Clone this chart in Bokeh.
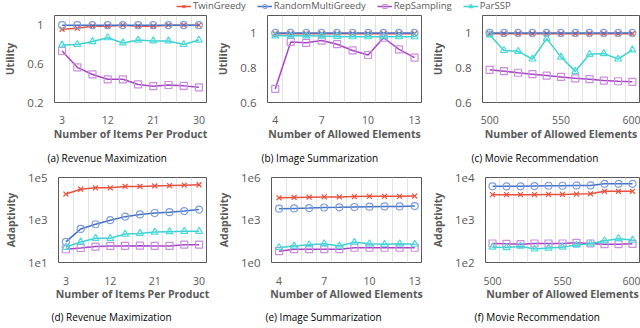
from bokeh.plotting import figure
from bokeh.models import Range1d, FixedTicker, CustomJSTickFormatter, Legend, LegendItem
from bokeh.layouts import column, row
from bokeh.embed import file_html
from bokeh.resources import INLINE

# ---------------- data ----------------
SERIES = ["TwinGreedy", "RandomMultiGreedy", "RepSampling", "ParSSP"]

x_rev = [3, 6, 9, 12, 15, 18, 21, 24, 27, 30]
x_img = [4, 5, 6, 7, 8, 9, 10, 11, 12, 13]
x_mov = [500, 510, 520, 530, 540, 550, 560, 570, 580, 590, 600]

xticks_rev = [3, 12, 21, 30]
xticks_img = [4, 7, 10, 13]
xticks_mov = [500, 550, 600]

# (a) Revenue Maximization - Utility
rev_util_twin = [0.958, 0.967, 0.99, 0.99, 1.0, 0.99, 0.99, 1.0, 1.0, 1.0]
rev_util_rmg = [1.0, 1.0, 1.0, 1.0, 1.0, 1.0, 1.0, 1.0, 1.0, 1.0]
rev_util_rep = [0.733, 0.564, 0.49, 0.44, 0.44, 0.387, 0.369, 0.381, 0.372, 0.357]
rev_util_par = [0.796, 0.80, 0.83, 0.87, 0.816, 0.846, 0.837, 0.837, 0.80, 0.846]

# (b) Image Summarization - Utility
img_util_twin = [0.995, 0.995, 0.995, 0.995, 0.995, 0.995, 0.995, 0.995, 0.995, 0.995]
img_util_rmg = [1.0, 1.0, 1.0, 1.0, 1.0, 1.0, 1.0, 1.0, 1.0, 1.0]
img_util_rep = [0.678, 0.948, 0.943, 0.956, 0.935, 0.899, 0.873, 0.972, 0.905, 0.858]
img_util_par = [0.983, 0.983, 0.983, 0.982, 0.98, 0.978, 0.978, 0.978, 0.978, 0.978]

# (c) Movie Recommendation - Utility
mov_util_twin = [0.995, 0.995, 0.995, 0.995, 0.995, 0.995, 0.995, 0.995, 0.995, 0.995, 0.995]
mov_util_rmg = [1.0, 1.0, 1.0, 1.0, 1.0, 1.0, 1.0, 1.0, 1.0, 1.0, 1.0]
mov_util_rep = [0.788, 0.78, 0.771, 0.763, 0.755, 0.747, 0.739, 0.734, 0.726, 0.722, 0.719]
mov_util_par = [0.989, 0.899, 0.894, 0.85, 0.967, 0.861, 0.779, 0.877, 0.881, 0.85, 0.902]

# (d) Revenue Maximization - Adaptivity
rev_adap_twin = [16600, 28000, 32600, 32600, 38000, 38000, 40000, 41700, 43700, 45700]
rev_adap_rmg = [93, 380, 630, 980, 1440, 1820, 2140, 2340, 2630, 3090]
rev_adap_rep = [42, 48, 56, 60, 60, 62, 60, 60, 69, 69]
rev_adap_par = [52, 93, 138, 138, 219, 234, 270, 282, 295, 295]

# (e) Image Summarization - Adaptivity
img_adap_twin = [37000, 39000, 40700, 42600, 42600, 44700, 46800, 46800, 46800, 49000]
img_adap_rmg = [6300, 6600, 6900, 7600, 7900, 8300, 8700, 9100, 9100, 9600]
img_adap_rep = [6.3, 8.7, 8.7, 8.7, 8.7, 11, 11, 11, 11, 11]
img_adap_par = [11.5, 14.5, 18, 21, 14.5, 27, 21, 19.5, 21, 19.5]

# (f) Movie Recommendation - Adaptivity
mov_adap_twin = [3950, 3950, 3950, 3950, 4000, 4000, 4070, 4130, 4730, 4730, 4730]
mov_adap_rmg = [6200, 6200, 6200, 6300, 6400, 6400, 6500, 6500, 7100, 7100, 7100]
mov_adap_rep = [280, 275, 270, 280, 280, 280, 290, 280, 270, 270, 275]
mov_adap_par = [230, 224, 242, 208, 219, 230, 258, 276, 324, 363, 338]

# ---------------- style ----------------
FONT = "Open Sans"
GREY = "#595959"
STYLES = {
    "TwinGreedy": dict(line="#E8513D", mk="x", mcol="#E8513D"),
    "RandomMultiGreedy": dict(line="#4472C4", mk="circle", mcol="#7C9DE0"),
    "RepSampling": dict(line="#A646C6", mk="square", mcol="#CC8CE0"),
    "ParSSP": dict(line="#3AD3D3", mk="triangle", mcol="#4FD9D9"),
}

lin_fmt = CustomJSTickFormatter(code="return String(Math.round(tick*10)/10);")
log_fmt = CustomJSTickFormatter(code="return '1e' + Math.round(Math.log10(tick));")


def panel(xs, ys_list, xr, xticks, log, yr, yticks, ylabel, xlabel, caption,
          width, height, left, right, top, cap_shift, tick_so, lab_so, title_so):
    kw = dict(y_axis_type="log") if log else {}
    p = figure(width=width, height=height, toolbar_location=None, output_backend="svg",
               x_range=Range1d(*xr), y_range=Range1d(*yr),
               min_border_left=left, min_border_right=right, min_border_top=top,
               min_border_bottom=0, title=caption, title_location="below", **kw)
    p.background_fill_color = "white"
    p.border_fill_color = "white"
    p.outline_line_color = GREY
    p.outline_line_width = 1
    # grid between categories
    mids = [(xs[i] + xs[i + 1]) / 2 for i in range(len(xs) - 1)]
    p.xgrid.ticker = FixedTicker(ticks=mids)
    p.xgrid.grid_line_color = "#E2E2E2"
    p.ygrid.visible = False
    for ax in (p.xaxis[0], p.yaxis[0]):
        ax.axis_line_color = None
        ax.major_tick_line_color = None
        ax.minor_tick_line_color = None
        ax.major_label_text_color = GREY
        ax.major_label_text_font = FONT
        ax.axis_label_text_font = FONT
        ax.axis_label_text_font_style = "bold"
        ax.axis_label_text_color = GREY
        ax.axis_label_text_font_size = "10.5px"
    p.xaxis.ticker = FixedTicker(ticks=xticks)
    p.xaxis.major_label_text_font_size = "10.5px"
    p.xaxis.major_label_standoff = tick_so
    p.xaxis.axis_label = xlabel
    p.xaxis.axis_label_standoff = lab_so
    p.yaxis.ticker = FixedTicker(ticks=yticks)
    p.yaxis.formatter = log_fmt if log else lin_fmt
    p.yaxis.major_label_text_font_size = "11.5px"
    p.yaxis.major_label_standoff = 5
    p.yaxis.axis_label = ylabel
    p.yaxis.axis_label_standoff = 7
    p.title.align = "left"
    p.title.text_font = FONT
    p.title.text_font_style = "normal"
    p.title.text_font_size = "10px"
    p.title.text_color = "black"
    p.title.standoff = title_so
    p.title.offset = cap_shift
    for name, ys in zip(SERIES, ys_list):
        st = STYLES[name]
        p.line(xs, ys, line_color=st["line"], line_width=1.5)
        p.scatter(xs, ys, marker=st["mk"], size=7, line_color=st["mcol"],
                  fill_color=None, line_width=1.2)
    return p


W = [213, 214, 213]
L = [49, 53, 55]
R = [7, 6, 1]
SH = [-7, -6, -11]
H1, H2 = 154, 159
ROW1 = dict(top=0, tick_so=7, lab_so=0, title_so=10)
ROW2 = dict(top=8, tick_so=8, lab_so=-1, title_so=9)

pa = panel(x_rev, [rev_util_twin, rev_util_rmg, rev_util_rep, rev_util_par], (1.5, 31.5), xticks_rev,
           False, (0.2, 1.1), [0.2, 0.6, 1.0], "Utility", "Number of Items Per Product",
           "(a) Revenue Maximization", W[0], H1, L[0], R[0], cap_shift=SH[0], **ROW1)
pb = panel(x_img, [img_util_twin, img_util_rmg, img_util_rep, img_util_par], (3.5, 13.45), xticks_img,
           False, (0.6, 1.1), [0.6, 0.8, 1.0], "Utility", "Number of Allowed Elements",
           "(b) Image Summarization", W[1], H1, L[1], R[1], cap_shift=SH[1], **ROW1)
pc = panel(x_mov, [mov_util_twin, mov_util_rmg, mov_util_rep, mov_util_par], (495, 605), xticks_mov,
           False, (0.6, 1.1), [0.6, 0.8, 1.0], "Utility", "Number of Allowed Elements",
           "(c) Movie Recommendation", W[2], H1, L[2], R[2], cap_shift=SH[2], **ROW1)
pd_ = panel(x_rev, [rev_adap_twin, rev_adap_rmg, rev_adap_rep, rev_adap_par], (1.5, 31.5), xticks_rev,
            True, (10, 1e5), [10, 1e3, 1e5], "Adaptivity", "Number of Items Per Product",
            "(d) Revenue Maximization", W[0], H2, L[0], R[0], cap_shift=SH[0], **ROW2)
pe = panel(x_img, [img_adap_twin, img_adap_rmg, img_adap_rep, img_adap_par], (3.5, 13.45), xticks_img,
           True, (1, 1e6), [1, 1e3, 1e6], "Adaptivity", "Number of Allowed Elements",
           "(e) Image Summarization", W[1], H2, L[1], R[1], cap_shift=SH[1], **ROW2)
pf = panel(x_mov, [mov_adap_twin, mov_adap_rmg, mov_adap_rep, mov_adap_par], (495, 605), xticks_mov,
           True, (100, 1e4), [100, 1e3, 1e4], "Adaptivity", "Number of Allowed Elements",
           "(f) Movie Recommendation", W[2], H2, L[2], R[2], cap_shift=SH[2], **ROW2)

# ---------------- legend strip ----------------
NAN = float("nan")
leg = figure(width=640, height=15, toolbar_location=None, output_backend="svg",
             x_range=Range1d(0, 1), y_range=Range1d(0, 1), min_border=0,
             x_axis_location=None, y_axis_location=None, outline_line_color=None)
leg.grid.visible = False
items = []
for name in SERIES:
    st = STYLES[name]
    r1 = leg.line([NAN], [NAN], line_color=st["line"], line_width=1.5)
    r2 = leg.scatter([NAN], [NAN], marker=st["mk"], size=6, line_color=st["mcol"],
                     fill_color=None, line_width=1.2)
    items.append(LegendItem(label=name, renderers=[r1, r2]))
legend = Legend(items=items, orientation="horizontal", location=(176, 3),
                border_line_color=None, background_fill_alpha=0, padding=0, margin=0,
                spacing=11, glyph_width=15, glyph_height=10, label_standoff=2,
                label_height=10, label_text_font=FONT, label_text_font_size="9.5px",
                label_text_color=GREY, label_text_baseline="middle")
leg.add_layout(legend, "center")

layout = column(leg, row(pa, pb, pc), row(pd_, pe, pf), spacing=0)

open("out.html", "w").write(file_html(layout, INLINE))
